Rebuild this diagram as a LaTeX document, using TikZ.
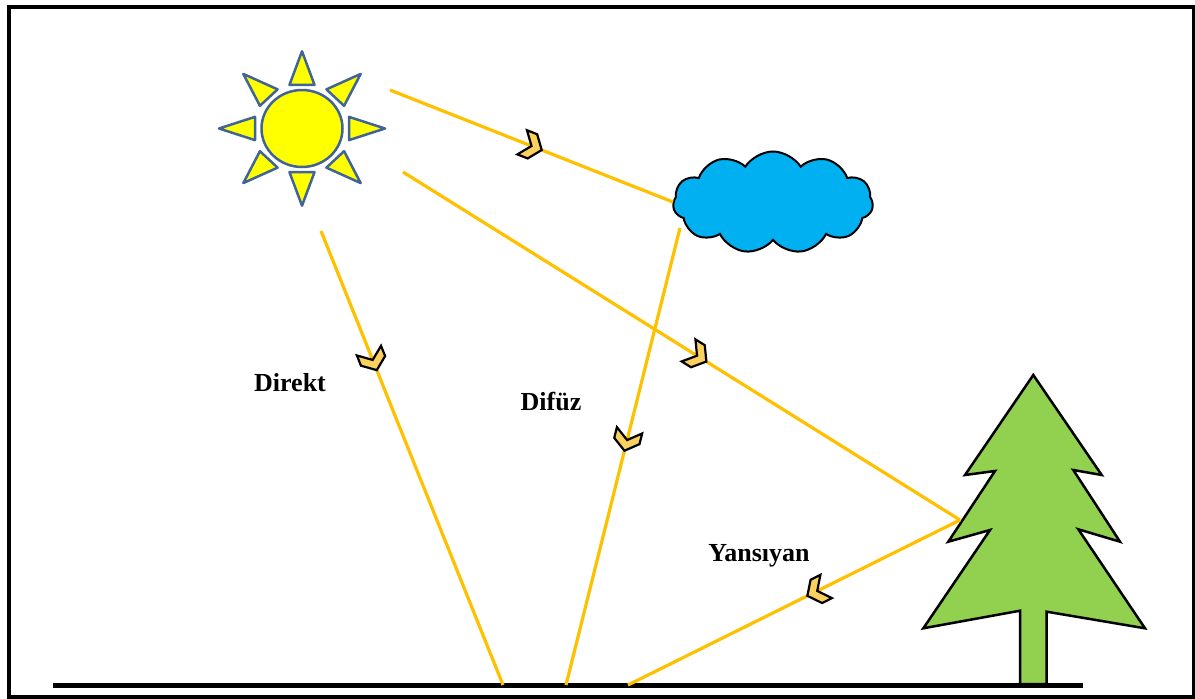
\documentclass[tikz,border=0pt]{standalone}
\usepackage{fontspec}
\setmainfont{Liberation Serif}
\usetikzlibrary{shapes.symbols,shapes.geometric,decorations.markings}
\definecolor{raycol}{RGB}{255,192,0}
\definecolor{chevfill}{RGB}{250,208,95}
\definecolor{sunline}{RGB}{65,100,150}
\definecolor{sunfill}{RGB}{255,255,0}
\definecolor{cloudfill}{RGB}{0,176,240}
\definecolor{treefill}{RGB}{146,208,80}
\tikzset{
  ray/.style={draw=raycol, line width=3.2pt},
  chev/.style={postaction={decorate,decoration={markings,
      mark=at position #1 with {\draw[fill=chevfill, draw=black, line width=2.2pt, line join=miter]
        (-10,13) -- (1,13) -- (11,0) -- (1,-13) -- (-10,-13) -- (0,0) -- cycle;}}}},
  sunpart/.style={fill=sunfill, draw=sunline, line width=2.5pt, line join=round},
  label/.style={font=\fontsize{26}{30}\selectfont\bfseries, text=black, inner sep=0pt}
}
\begin{document}
\begin{tikzpicture}[x=1pt,y=-1pt]
\useasboundingbox (0,0) rectangle (1195,699);
% outer frame
\draw[line width=4pt] (9,6.5) rectangle (1193.5,697);

% sun: rays and disc
\begin{scope}[shift={(302,128.5)}, yscale=0.93]
  \foreach \a in {0,45,...,315}
    \draw[sunpart, rotate=\a] (83,0) -- (47,12.5) -- (47,-12.5) -- cycle;
\end{scope}
\node[ellipse, sunpart, minimum width=81pt, minimum height=77pt, inner sep=0pt] (sun) at (302,128.5) {};

% cloud
\node[cloud, cloud puffs=11, cloud puff arc=115, aspect=2.1, draw=black, line width=2pt,
      fill=cloudfill, minimum width=200pt, minimum height=102pt, inner sep=0pt] (cloud) at (773,202.5) {};

% tree
\draw[fill=treefill, draw=black, line width=2.5pt, line join=miter]
  (1033.3,375) -- (1101.7,475) -- (1073.3,470) -- (1120,541.7) -- (1078.3,529.3)
  -- (1145,628.3) -- (1046.7,611.7) -- (1046.7,684) -- (1020,684) -- (1020,610.7)
  -- (923.3,628.3) -- (990,530) -- (948.3,541.7) -- (995,471) -- (965,475) -- cycle;

% ground
\coordinate (groundL) at (53,685);
\coordinate (groundR) at (1083,685);
\draw[line width=5pt] (groundL) -- (groundR);

% ray end points
\coordinate (sunA) at (390,90);
\coordinate (sunB) at (403,172);
\coordinate (sunC) at (321,231);
\coordinate (cloudIn) at (673,202);
\coordinate (cloudOut) at (680,228);
\coordinate (treeHit) at (960,520);
\coordinate (gDirect) at (503,685);
\coordinate (gDiffuse) at (566,685);
\coordinate (gReflect) at (628,685);

% rays
\draw[ray, chev=0.5] (sunA) -- (cloudIn);
\draw[ray, chev=0.528] (sunB) -- (treeHit);
\draw[ray, chev=0.284] (sunC) -- (gDirect);
\draw[ray, chev=0.464] (cloudOut) -- (gDiffuse);
\draw[ray, chev=0.43] (treeHit) -- (gReflect);

% labels
\node[label] (direkt) at (290,383) {Direkt};
\node[label] (difuz) at (551,402) {Difüz};
\node[label] (yansiyan) at (759,556) {Yansıyan};
\end{tikzpicture}
\end{document}
